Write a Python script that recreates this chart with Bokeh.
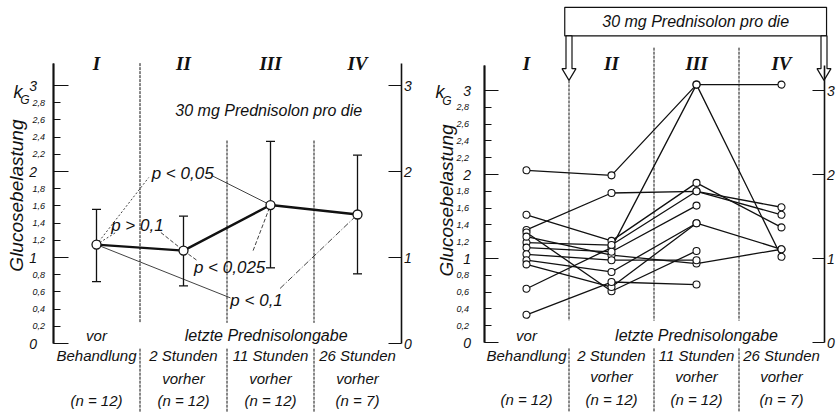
import math
from bokeh.plotting import figure
from bokeh.layouts import row
from bokeh.models import (Range1d, LinearAxis, FixedTicker, Label, LabelSet,
                          ColumnDataSource, Whisker, TeeHead)
from bokeh.core.properties import value
from bokeh.embed import file_html
from bokeh.resources import INLINE

# ---------------- data ----------------
groups = ["I", "II", "III", "IV"]
group_pos = [1, 2, 3, 4]
row1_labels = ["Behandlung", "2 Stunden", "11 Stunden", "26 Stunden"]
row2_labels = ["", "vorher", "vorher", "vorher"]
n_labels = ["(n = 12)", "(n = 12)", "(n = 12)", "(n = 7)"]
dose_text = "30 mg Prednisolon pro die"
y_title = "Glucosebelastung"

major_ticks = [0, 1, 2, 3]
major_tick_labels = ["0", "1", "2", "3"]
minor_ticks = [0.2, 0.4, 0.6, 0.8, 1.2, 1.4, 1.6, 1.8, 2.2, 2.4, 2.6, 2.8]
minor_tick_labels = ["0,2", "0,4", "0,6", "0,8", "1,2", "1,4", "1,6", "1,8",
                     "2,2", "2,4", "2,6", "2,8"]

# left panel: mean and spread of k_G
mean_kg = [1.15, 1.08, 1.61, 1.50]
upper_kg = [1.56, 1.48, 2.35, 2.19]
lower_kg = [0.72, 0.67, 0.88, 0.81]

p_labels = ["p < 0,05", "p > 0,1", "p < 0,025", "p < 0,1"]
p_from = [0, 0, 1, 0]
p_to = [2, 1, 2, 3]

# right panel: individual patients (None = not measured)
kg_I = [2.05, 1.34, 1.52, 0.64, 1.31, 1.19, 1.26, 1.13, 1.05, 0.98, 0.93, 0.33]
kg_II = [1.99, 1.78, 1.21, 1.13, 0.61, 1.16, 1.04, 1.08, 0.98, 0.84, 0.66, 0.72]
kg_III = [3.07, 1.80, 1.90, 3.07, 1.09, 1.80, 0.94, 1.63, 0.98, 1.42, 1.42, 0.69]
kg_IV = [3.07, 1.61, 1.37, 1.02, None, 1.52, 1.11, None, None, 1.11, None, None]

# ---------------- style / layout ----------------
FONT = "Liberation Sans"
SERIF = "Liberation Serif"
H = 412
INK = "#111111"


def base_fig(width, x0, x1, y0, y1):
    p = figure(width=width, height=H, x_range=Range1d(x0, x1),
               y_range=Range1d(y0, y1), x_axis_type=None, y_axis_type=None,
               toolbar_location=None, output_backend="svg",
               min_border_left=0, min_border_right=0,
               min_border_top=0, min_border_bottom=0,
               outline_line_color=None)
    return p


def add_left_axis(p, top, minor_sd, major_sd, major_len):
    # minor graduation with small labels
    minor_axis = LinearAxis(ticker=FixedTicker(ticks=minor_ticks), bounds=(0, top),
                            fixed_location=0.5,
                            major_label_overrides={t: s for t, s in zip(minor_ticks, minor_tick_labels)},
                            major_tick_in=7, major_tick_out=0, minor_tick_in=0, minor_tick_out=0,
                            major_label_standoff=minor_sd,
                            major_label_text_font=FONT, major_label_text_font_style="italic",
                            major_label_text_font_size="9px", major_label_text_color=INK,
                            axis_line_width=1.7, axis_line_color=INK,
                            major_tick_line_width=1.0, major_tick_line_color=INK)
    p.add_layout(minor_axis, "left")
    # integer graduation with larger labels
    major_axis = LinearAxis(ticker=FixedTicker(ticks=major_ticks), bounds=(0, top),
                            fixed_location=0.5,
                            major_label_overrides={t: s for t, s in zip(major_ticks, major_tick_labels)},
                            major_tick_in=major_len, major_tick_out=0,
                            minor_tick_in=0, minor_tick_out=0,
                            major_label_standoff=major_sd,
                            major_label_text_font=FONT, major_label_text_font_style="italic",
                            major_label_text_font_size="14px", major_label_text_color=INK,
                            axis_line_width=1.7, axis_line_color=INK,
                            major_tick_line_width=1.2, major_tick_line_color=INK)
    p.add_layout(major_axis, "left")


def add_right_axis(p, top, tick_len):
    ax = LinearAxis(ticker=FixedTicker(ticks=major_ticks), bounds=(0, top),
                    fixed_location=4.5,
                    major_label_overrides={t: s for t, s in zip(major_ticks, major_tick_labels)},
                    major_tick_in=tick_len, major_tick_out=0, minor_tick_in=0, minor_tick_out=0,
                    major_label_standoff=3,
                    major_label_text_font=FONT, major_label_text_font_style="italic",
                    major_label_text_font_size="14px", major_label_text_color=INK,
                    axis_line_width=1.6, axis_line_color=INK,
                    major_tick_line_width=1.2, major_tick_line_color=INK)
    p.add_layout(ax, "right")


def add_axis_title(p, k_dx, g_dx, k_y, title_dx, title_y):
    p.add_layout(Label(x=0.5, y=k_y, x_offset=k_dx, text="k", text_font=FONT,
                       text_font_style="italic", text_font_size="18px",
                       text_align="center", text_baseline="middle", text_color=INK))
    p.add_layout(Label(x=0.5, y=k_y - 0.10, x_offset=g_dx, text="G", text_font=FONT,
                       text_font_style="italic", text_font_size="12px",
                       text_align="center", text_baseline="middle", text_color=INK))
    p.add_layout(Label(x=0.5, y=title_y, x_offset=title_dx, text=y_title, angle=math.pi / 2,
                       text_font=FONT, text_font_style="italic", text_font_size="19px",
                       text_align="center", text_baseline="middle", text_color=INK))


def add_category_texts(p, y_num, y_vor, y_r1, y_r2, y_n, letzte_x):
    src = ColumnDataSource(dict(x=group_pos, g=groups, r1=row1_labels,
                                r2=row2_labels, n=n_labels))
    p.add_layout(LabelSet(x="x", y=y_num, text="g", source=src, text_align="center",
                          text_baseline="middle", text_font=value(SERIF),
                          text_font_style="bold italic", text_font_size="19px",
                          text_color=INK))
    for key, yy in (("r1", y_r1), ("r2", y_r2), ("n", y_n)):
        p.add_layout(LabelSet(x="x", y=yy, text=key, source=src, text_align="center",
                              text_baseline="middle", text_font=value(FONT),
                              text_font_style="italic", text_font_size="15px",
                              text_color=INK))
    p.add_layout(Label(x=1, y=y_vor, text="vor", text_font=FONT, text_font_style="italic",
                       text_font_size="15px", text_align="center", text_baseline="middle",
                       text_color=INK))
    p.add_layout(Label(x=letzte_x, y=y_vor, text="letzte Prednisolongabe", text_font=FONT,
                       text_font_style="italic", text_font_size="16px",
                       text_align="center", text_baseline="middle", text_color=INK))


def add_dividers(p, tops, gap_top, gap_bot, bottom):
    xs = [1.5, 2.5, 3.5]
    p.segment(x0=xs, y0=tops, x1=xs, y1=[gap_top] * 3, line_color=INK,
              line_width=1.0, line_dash="3 1")
    p.segment(x0=xs, y0=[gap_bot] * 3, x1=xs, y1=[bottom] * 3, line_color=INK,
              line_width=1.0, line_dash="3 1")


# ============ LEFT PANEL (canvas 0..420 px) ============
LW = 420
L_UX, L_UY = 87.0, 86.0          # px per data unit
L_X0 = 1 - 96 / L_UX             # group I sits 96 px from the left edge
L_Y0 = -(H - 343) / L_UY         # value 0 sits 343 px from the top
pl = base_fig(LW, L_X0, L_X0 + LW / L_UX, L_Y0, L_Y0 + H / L_UY)
L_TOP = 3.26
add_left_axis(pl, L_TOP, minor_sd=8, major_sd=16, major_len=15)
add_right_axis(pl, L_TOP, tick_len=13)
add_axis_title(pl, k_dx=-35, g_dx=-28, k_y=2.93, title_dx=-37, title_y=1.72)
add_dividers(pl, [L_TOP, 2.36, 2.36], 0.24, -0.06, L_Y0)
add_category_texts(pl, 3.26, 0.09, -0.14, -0.41, -0.66, 2.95)
pl.add_layout(Label(x=2.98, y=2.71, text=dose_text, text_font=FONT,
                    text_font_style="italic", text_font_size="16px",
                    text_align="center", text_baseline="middle", text_color=INK))

# p-value annotations (text position and connector attach points are layout)
p_text_xy = [(1.99, 1.98), (1.47, 1.37), (2.53, 0.88), (2.84, 0.50)]
p_attach_l = [(1.60, 1.93), (1.22, 1.29), (2.15, 0.97), (2.54, 0.53)]
p_attach_r = [(2.33, 1.95), (1.74, 1.29), (2.80, 1.08), (3.11, 0.64)]
dash_l = ["2 2", "2 2", "4 2", "solid"]
dash_r = ["solid", "4 2", "4 2", "6 2 1 2"]
for i, txt in enumerate(p_labels):
    a, b = p_from[i], p_to[i]
    pl.line([group_pos[a], p_attach_l[i][0]], [mean_kg[a], p_attach_l[i][1]],
            line_color=INK, line_width=0.8, line_dash=dash_l[i])
    pl.line([p_attach_r[i][0], group_pos[b]], [p_attach_r[i][1], mean_kg[b]],
            line_color=INK, line_width=0.8, line_dash=dash_r[i])
    pl.add_layout(Label(x=p_text_xy[i][0], y=p_text_xy[i][1], text=txt, text_font=FONT,
                        text_font_style="italic", text_font_size="17px",
                        text_align="center", text_baseline="middle", text_color=INK))

err_src = ColumnDataSource(dict(base=group_pos, upper=upper_kg, lower=lower_kg))
pl.add_layout(Whisker(base="base", upper="upper", lower="lower", source=err_src,
                      line_width=1.3, line_color=INK,
                      upper_head=TeeHead(size=9, line_width=1.3, line_color=INK),
                      lower_head=TeeHead(size=9, line_width=1.3, line_color=INK)))
pl.line(group_pos, mean_kg, line_color=INK, line_width=2.4)
pl.scatter(group_pos, mean_kg, marker="circle", size=9, fill_color="white",
           line_color=INK, line_width=1.3)

# ============ RIGHT PANEL (canvas 420..838 px) ============
RW = 418
R_UX, R_UY = 85.0, 84.0
R_X0 = 1 - (526 - 420) / R_UX
R_Y0 = -(H - 342) / R_UY
pr = base_fig(RW, R_X0, R_X0 + RW / R_UX, R_Y0, R_Y0 + H / R_UY)
R_TOP = 3.30
add_left_axis(pr, R_TOP, minor_sd=15, major_sd=13, major_len=14)
add_right_axis(pr, R_TOP, tick_len=12)
add_axis_title(pr, k_dx=-44, g_dx=-37, k_y=2.98, title_dx=-38, title_y=1.69)

# dose box and hollow arrows
BOX_B, BOX_T = 3.65, 3.99
pr.quad(left=1.45, right=4.53, bottom=BOX_B, top=BOX_T, fill_color="white",
        line_color=INK, line_width=1.2)
pr.add_layout(Label(x=2.99, y=(BOX_B + BOX_T) / 2, text=dose_text, text_font=FONT,
                    text_font_style="italic", text_font_size="16px",
                    text_align="center", text_baseline="middle", text_color=INK))
HEAD_B, TIP = 3.26, 3.12
arrow_xs, arrow_ys = [], []
for ax_ in (1.5, 4.5):
    s, h = 3 / R_UX, 7 / R_UX
    arrow_xs.append([ax_ - s, ax_ + s, ax_ + s, ax_ + h, ax_, ax_ - h, ax_ - s])
    arrow_ys.append([BOX_B, BOX_B, HEAD_B, HEAD_B, TIP, HEAD_B, HEAD_B])
pr.patches(arrow_xs, arrow_ys, fill_color="white", line_color=INK, line_width=1.2)

add_dividers(pr, [TIP, 3.51, 3.51], 0.26, -0.07, R_Y0)
add_category_texts(pr, 3.32, 0.08, -0.16, -0.41, -0.68, 3.0)

xs_list, ys_list, px, py = [], [], [], []
for vals in zip(kg_I, kg_II, kg_III, kg_IV):
    xs = [g for g, v in zip(group_pos, vals) if v is not None]
    ys = [v for v in vals if v is not None]
    xs_list.append(xs)
    ys_list.append(ys)
    px += xs
    py += ys
pr.multi_line(xs_list, ys_list, line_color=INK, line_width=1.3)
pr.scatter(px, py, marker="circle", size=7, fill_color="white", line_color=INK,
           line_width=1.1)

layout = row(pl, pr)
open("out.html", "w").write(file_html(layout, INLINE))
